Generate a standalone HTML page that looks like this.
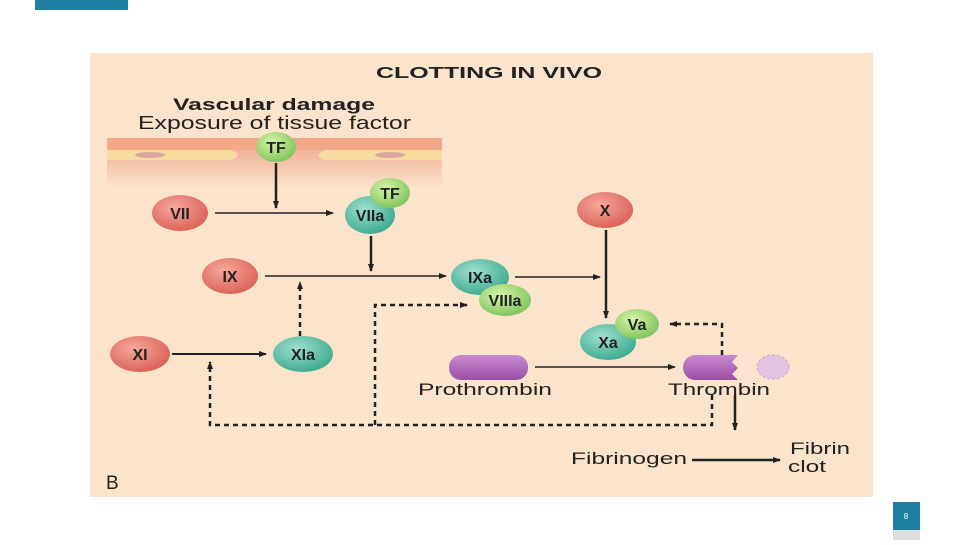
<!DOCTYPE html>
<html><head><meta charset="utf-8"><style>
body{margin:0;width:960px;height:540px;background:#fff;overflow:hidden;font-family:"Liberation Sans",sans-serif}
</style></head><body>
<svg width="960" height="540" xmlns="http://www.w3.org/2000/svg" font-family="Liberation Sans, sans-serif">
<defs>
<marker id="a" markerWidth="8" markerHeight="8" refX="7" refY="4" orient="auto" markerUnits="userSpaceOnUse"><path d="M0,1 L8,4 L0,7 Z" fill="#222"/></marker>
<linearGradient id="v" x1="0" y1="0" x2="0" y2="1"><stop offset="0" stop-color="#f3b29a"/><stop offset="1" stop-color="#fbe3cc"/></linearGradient>
<radialGradient id="r" cx=".4" cy=".35" r=".7"><stop offset="0" stop-color="#f7a89a"/><stop offset="1" stop-color="#d85f55"/></radialGradient>
<radialGradient id="t" cx=".4" cy=".35" r=".7"><stop offset="0" stop-color="#9fe0cc"/><stop offset="1" stop-color="#3aa88e"/></radialGradient>
<radialGradient id="g" cx=".4" cy=".35" r=".7"><stop offset="0" stop-color="#d6f5a8"/><stop offset="1" stop-color="#7cc25a"/></radialGradient>
<linearGradient id="p" x1="0" y1="0" x2="0" y2="1"><stop offset="0" stop-color="#c98ad0"/><stop offset="1" stop-color="#9a4ea3"/></linearGradient>
</defs>
<rect x="35" y="0" width="93" height="10" fill="#1f7fa0"/>
<rect x="90" y="53" width="783" height="444" fill="#fbe3cc"/>
<rect x="107" y="150" width="335" height="38" fill="url(#v)"/>
<rect x="107" y="138" width="335" height="12" fill="#f4a88a"/>
<path d="M107,150 H230 Q245,155 230,160 H107 Z M325,150 H442 V160 H325 Q312,155 325,150 Z" fill="#f7dca0"/>
<ellipse cx="150" cy="155" rx="15" ry="3" fill="#d9a8a0"/><ellipse cx="390" cy="155" rx="15" ry="3" fill="#d9a8a0"/>
<text x="376" y="78" font-size="16" font-weight="bold" fill="#222" textLength="226" lengthAdjust="spacingAndGlyphs">CLOTTING IN VIVO</text>
<text x="173" y="110" font-size="17" font-weight="bold" fill="#222" textLength="202" lengthAdjust="spacingAndGlyphs">Vascular damage</text>
<text x="138" y="129" font-size="18" fill="#222" textLength="273" lengthAdjust="spacingAndGlyphs">Exposure of tissue factor</text>
<g stroke="#222" fill="none">
<path d="M276,163 V208" stroke-width="2.5" marker-end="url(#a)"/>
<path d="M215,213 H333" stroke-width="1.5" marker-end="url(#a)"/>
<path d="M371,236 V271" stroke-width="2.5" marker-end="url(#a)"/>
<path d="M265,276 H446" stroke-width="1.5" marker-end="url(#a)"/>
<path d="M515,277 H600" stroke-width="1.5" marker-end="url(#a)"/>
<path d="M606,230 V318" stroke-width="2.5" marker-end="url(#a)"/>
<path d="M172,354 H266" stroke-width="2" marker-end="url(#a)"/>
<path d="M535,367 H675" stroke-width="1.5" marker-end="url(#a)"/>
<path d="M735,395 V430" stroke-width="2.5" marker-end="url(#a)"/>
<path d="M692,460 H780" stroke-width="2.5" marker-end="url(#a)"/>
<g stroke-dasharray="5,4" stroke-width="2.5">
<path d="M300,336 V282" marker-end="url(#a)"/>
<path d="M712,395 V425 H210 V362" marker-end="url(#a)"/>
<path d="M375,425 V305 H467" marker-end="url(#a)"/>
<path d="M722,355 V324 H670" marker-end="url(#a)"/>
</g></g>
<g font-weight="bold" font-size="16" text-anchor="middle" fill="#222">
<ellipse cx="180" cy="213" rx="28" ry="18" fill="url(#r)"/><text x="180" y="219">VII</text>
<ellipse cx="605" cy="210" rx="28" ry="18" fill="url(#r)"/><text x="605" y="216">X</text>
<ellipse cx="230" cy="276" rx="28" ry="18" fill="url(#r)"/><text x="230" y="282">IX</text>
<ellipse cx="140" cy="354" rx="30" ry="18" fill="url(#r)"/><text x="140" y="360">XI</text>
<ellipse cx="303" cy="354" rx="30" ry="18" fill="url(#t)"/><text x="303" y="360">XIa</text>
<ellipse cx="370" cy="215" rx="25" ry="19" fill="url(#t)"/><text x="370" y="221">VIIa</text>
<ellipse cx="390" cy="193" rx="20" ry="15" fill="url(#g)"/><text x="390" y="199">TF</text>
<ellipse cx="276" cy="147" rx="20" ry="15" fill="url(#g)"/><text x="276" y="153">TF</text>
<ellipse cx="480" cy="277" rx="29" ry="18" fill="url(#t)"/><text x="480" y="283">IXa</text>
<ellipse cx="505" cy="300" rx="26" ry="16" fill="url(#g)"/><text x="505" y="306">VIIIa</text>
<ellipse cx="608" cy="342" rx="28" ry="18" fill="url(#t)"/><text x="608" y="348">Xa</text>
<ellipse cx="637" cy="324" rx="22" ry="15" fill="url(#g)"/><text x="637" y="330">Va</text>
</g>
<rect x="449" y="355" width="79" height="25" rx="12" fill="url(#p)"/>
<path d="M695,355 H738 L732,362 L738,368 L732,374 L738,380 H695 A12,12.5 0 0 1 695,355 Z" fill="url(#p)"/>
<ellipse cx="773" cy="367" rx="16" ry="12" fill="#e2c4e2" stroke="#caa0cc" stroke-dasharray="3,2"/>
<g font-size="17" fill="#222">
<text x="418" y="395" textLength="134" lengthAdjust="spacingAndGlyphs">Prothrombin</text>
<text x="668" y="395" textLength="102" lengthAdjust="spacingAndGlyphs">Thrombin</text>
<text x="571" y="464" textLength="116" lengthAdjust="spacingAndGlyphs">Fibrinogen</text>
<text x="790" y="454" textLength="60" lengthAdjust="spacingAndGlyphs">Fibrin</text>
<text x="788" y="472" textLength="38" lengthAdjust="spacingAndGlyphs">clot</text>
<text x="106" y="489" font-size="19">B</text>
</g>
<rect x="893" y="502" width="27" height="28" fill="#1f7fa0"/>
<rect x="893" y="530" width="27" height="10" fill="#ddd"/>
<text x="906" y="519" font-size="8" fill="#fff" text-anchor="middle">8</text>
</svg>
</body></html>
